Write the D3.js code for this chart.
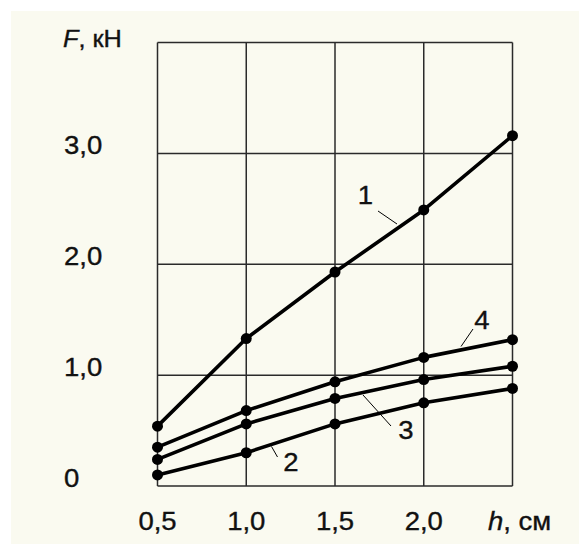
<!DOCTYPE html>
<html>
<head>
<meta charset="utf-8">
<script src="https://cdn.jsdelivr.net/npm/d3@7"></script>
<style>
  html, body { margin: 0; padding: 0; background: #ffffff; }
  svg { display: block; }
  text { font-family: "Liberation Sans", Arial, sans-serif; fill: #111; stroke: #111; stroke-width: 0.35px; }
</style>
</head>
<body>
<svg id="chart" width="579" height="544"></svg>
<script>
// ---- data ----
const hValues = [0.5, 1.0, 1.5, 2.0, 2.5];
const curve1 = [0.54, 1.33, 1.93, 2.49, 3.16];
const curve2 = [0.10, 0.30, 0.56, 0.75, 0.88];
const curve3 = [0.24, 0.56, 0.79, 0.96, 1.08];
const curve4 = [0.35, 0.68, 0.94, 1.16, 1.32];
const seriesNames = ["1", "2", "3", "4"];
const xTickValues = [0.5, 1.0, 1.5, 2.0];
const xTickLabels = ["0,5", "1,0", "1,5", "2,0"];
const yTickValues = [0, 1, 2, 3];
const yTickLabels = ["0", "1,0", "2,0", "3,0"];
const xAxisTitle = ["h", ", см"];
const yAxisTitle = ["F", ", кН"];

const series = [curve1, curve2, curve3, curve4];

// ---- layout ----
const svg = d3.select("#chart");
const W = 579, H = 544;
const plot = { left: 157.5, right: 512.5, top: 42.5, bottom: 486 };

svg.append("rect").attr("x", 11).attr("y", 11).attr("width", W - 11).attr("height", H - 11)
  .attr("fill", "#fafaf0");

const x = d3.scaleLinear().domain([0.5, 2.5]).range([plot.left, plot.right]);
const y = d3.scaleLinear().domain([0, 4]).range([plot.bottom, plot.top]);

// grid
const g = svg.append("g");
const gridColor = "#2a2a2a";
g.selectAll(".vgrid").data(d3.range(0.5, 2.51, 0.5)).enter().append("line")
  .attr("x1", d => x(d)).attr("x2", d => x(d))
  .attr("y1", plot.top).attr("y2", plot.bottom)
  .attr("stroke", gridColor).attr("stroke-width", 1.5);
g.selectAll(".hgrid").data([0, 1, 2, 3, 4]).enter().append("line")
  .attr("x1", plot.left).attr("x2", plot.right)
  .attr("y1", d => y(d)).attr("y2", d => y(d))
  .attr("stroke", gridColor).attr("stroke-width", 1.5);

// tick labels
const fs = 25;
const sx = 1.1;
function addText(px, py, str, anchor, parts) {
  const t = svg.append("text")
    .attr("transform", `translate(${px},${py}) scale(${sx},1)`)
    .attr("font-size", fs)
    .attr("text-anchor", anchor)
    .attr("dominant-baseline", "central");
  if (parts) {
    t.append("tspan").attr("font-style", "italic").text(parts[0]);
    t.append("tspan").text(parts[1]);
  } else {
    t.text(str);
  }
  return t;
}
xTickValues.forEach((v, i) => addText(x(v), 521, xTickLabels[i], "middle"));
yTickValues.forEach((v, i) => addText(64, y(v) - 8, yTickLabels[i], "start"));
addText(488, 521, null, "start", xAxisTitle);
const ft = addText(63, 38, null, "start", yAxisTitle);
ft.attr("font-size", 23);

// lines
const line = d3.line().x((d, i) => x(hValues[i])).y(d => y(d));
series.forEach(s => {
  svg.append("path").datum(s).attr("d", line)
    .attr("fill", "none").attr("stroke", "#000").attr("stroke-width", 3.6)
    .attr("stroke-linejoin", "round");
  svg.selectAll(null).data(s).enter().append("circle")
    .attr("cx", (d, i) => x(hValues[i])).attr("cy", d => y(d))
    .attr("r", 5.5).attr("fill", "#000");
});

// curve labels with leader lines
function leader(x1, y1, x2, y2) {
  svg.append("line").attr("x1", x1).attr("y1", y1).attr("x2", x2).attr("y2", y2)
    .attr("stroke", "#000").attr("stroke-width", 1);
}
leader(378, 211, 397, 224);
addText(365.5, 195, seriesNames[0], "middle");
leader(271.5, 446.5, 277.5, 457);
addText(291, 462, seriesNames[1], "middle");
leader(363, 395, 391, 426);
addText(406, 430, seriesNames[2], "middle");
leader(461, 346.5, 473, 329);
addText(482, 320, seriesNames[3], "middle");
</script>
</body>
</html>
